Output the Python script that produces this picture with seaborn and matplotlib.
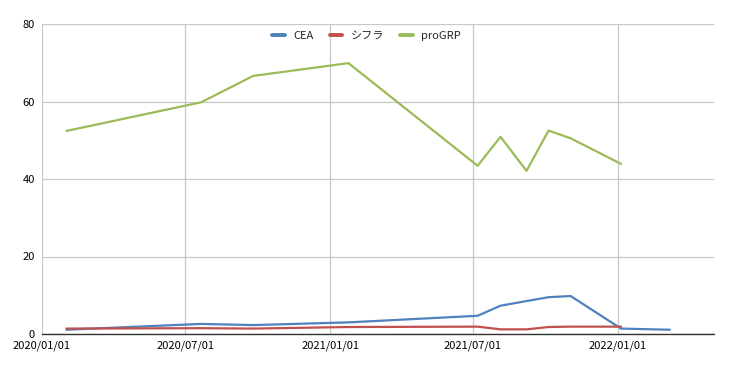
import matplotlib
matplotlib.use("Agg")
import matplotlib.pyplot as plt
import seaborn as sns
import pandas as pd

# Data
dates_common = ["2020-02-01", "2020-07-21", "2020-09-25", "2021-01-24", "2021-07-07",
                "2021-08-05", "2021-09-07", "2021-10-05", "2021-11-02", "2022-01-05"]
dates_cea = dates_common + ["2022-03-08"]
cea = [1.1, 2.6, 2.3, 3.0, 4.7, 7.3, 8.5, 9.5, 9.8, 1.4, 1.1]
cyfra = [1.4, 1.5, 1.4, 1.8, 1.9, 1.2, 1.2, 1.8, 1.9, 1.9]
progrp = [52.4, 59.8, 66.6, 69.9, 43.4, 50.9, 42.1, 52.5, 50.5, 43.9]
series_names = ["CEA", "シフラ", "proGRP"]
colors = ["#4f81bd", "#c0504d", "#9bbb59"]
xtick_labels = ["2020/01/01", "2020/07/01", "2021/01/01", "2021/07/01", "2022/01/01"]
yticks = [0, 20, 40, 60, 80]

df = pd.concat([
    pd.DataFrame({"date": pd.to_datetime(dates_cea), "value": cea, "series": series_names[0]}),
    pd.DataFrame({"date": pd.to_datetime(dates_common), "value": cyfra, "series": series_names[1]}),
    pd.DataFrame({"date": pd.to_datetime(dates_common), "value": progrp, "series": series_names[2]}),
], ignore_index=True)

sns.set_style("white")
plt.rcParams['font.family'] = ['Noto Sans CJK JP', 'DejaVu Sans']

fig = plt.figure(figsize=(7.33, 3.71), dpi=100)
ax = fig.add_axes([42 / 733, 37 / 371, 672 / 733, 310 / 371])

sns.lineplot(data=df, x="date", y="value", hue="series", hue_order=series_names,
             palette=colors, linewidth=1.6, ax=ax, sort=False, estimator=None)

ax.set_xlim(pd.Timestamp("2020-01-01"), pd.Timestamp("2020-01-01") + pd.Timedelta(days=853))
ax.set_ylim(0, 80)
ax.set_yticks(yticks)
ax.set_xticks(pd.to_datetime([s.replace("/", "-") for s in xtick_labels]))
ax.set_xticklabels(xtick_labels)
ax.set_xlabel("")
ax.set_ylabel("")
ax.tick_params(axis="both", length=0, labelsize=8, colors="#000000")
ax.tick_params(axis="x", pad=5)
ax.tick_params(axis="y", pad=5)
ax.grid(True, color="#c8c8c8", linewidth=0.9)
ax.set_axisbelow(True)
for s in ["top", "right", "left"]:
    ax.spines[s].set_visible(False)
ax.spines["bottom"].set_color("#333333")
ax.spines["bottom"].set_linewidth(1.0)

leg = ax.legend(loc="upper center", bbox_to_anchor=(0.483, 1.01), ncol=3, frameon=False,
                fontsize=8, handlelength=1.1, columnspacing=1.5, handletextpad=0.75)
for line in leg.get_lines():
    line.set_linewidth(2.8)

fig.savefig("out.png", dpi=100)
